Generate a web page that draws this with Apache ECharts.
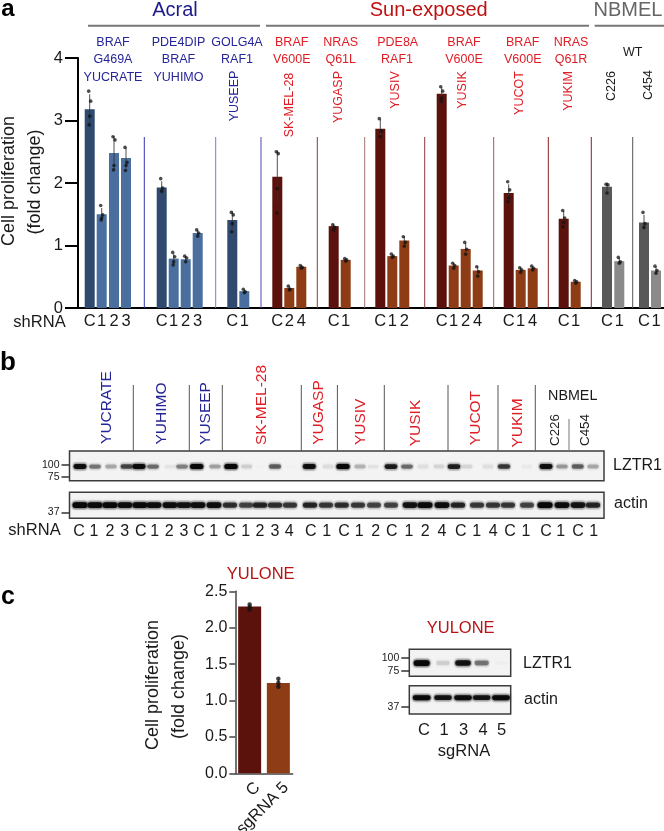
<!DOCTYPE html>
<html><head><meta charset="utf-8">
<style>html,body{margin:0;padding:0;background:#fff}#c{width:664px;height:831px}</style>
<script src="https://cdn.jsdelivr.net/npm/echarts@6/dist/echarts.min.js"></script></head>
<body><div id="c"></div>
<script>
// ---------- Panel a data ----------
const laneLabels = ['C','1','2','3','C','1','2','3','C','1','C','2','4','C','1','C','1','2','C','1','2','4','C','1','4','C','1','C','1','C','1'];
const laneFamily = ['a','a','a','a','a','a','a','a','a','a','s','s','s','s','s','s','s','s','s','s','s','s','s','s','s','s','s','n','n','n','n'];
const proliferation = [3.18,1.5,2.48,2.4,1.93,0.79,0.78,1.2,1.41,0.27,2.1,0.32,0.66,1.31,0.77,2.87,0.83,1.08,3.43,0.68,0.945,0.6,1.84,0.61,0.635,1.43,0.42,1.94,0.75,1.37,0.6];
const proliferationSd = [0.24,0.1,0.27,0.17,0.1,0.08,0.05,0.05,0.14,0.03,0.42,0.03,0.02,0.04,0.02,0.15,0.03,0.07,0.1,0.04,0.09,0.07,0.14,0.04,0.03,0.12,0.02,0.07,0.05,0.12,0.06];
const replicateDots = [[3.47,3.31,3.07,2.93],[1.64,1.49,1.44,1.41],[2.74,2.69,2.28,2.21],[2.57,2.33,2.28,2.2],[2.07,1.92,1.87],[0.89,0.82,0.74,0.69],[0.83,0.8,0.74],[1.25,1.2,1.15],[1.53,1.49,1.35,1.22],[0.3,0.26,0.245],[2.5,2.47,1.91,1.52],[0.35,0.3,0.29],[0.68,0.65,0.635],[1.33,1.29,1.25],[0.79,0.77,0.75],[3.03,2.83,2.74],[0.865,0.83,0.81],[1.14,1.05,0.99],[3.54,3.47,3.36,3.31],[0.715,0.68,0.635],[1.05,0.94,0.86],[0.66,0.58,0.51],[2.02,1.89,1.76,1.7],[0.645,0.61,0.57],[0.67,0.635,0.61],[1.56,1.44,1.37,1.3],[0.44,0.42,0.395],[1.98,1.97,1.84],[0.81,0.74,0.715],[1.53,1.35,1.29],[0.67,0.6,0.555]];
// lane order along the axis
const lanePositions = [89.7,101.7,114,126,161.7,173.7,185.7,197.7,232.3,244.3,277.3,289.3,301.3,333.7,345.7,380.3,392.3,404.3,441.7,453.7,465.7,477.7,508.7,520.7,532.7,563.7,575.7,607,619.3,644,656];

// ---------- Panel b data (western blot band density, 0-1) ----------
const blotLabels = ['C','1','2','3','C','1','2','3','C','1','C','1','2','3','4','C','1','C','1','2','C','1','2','4','C','1','4','C','1','C','1','C','1'];
const blotLabelPositions = [79,94,110,124.7,140.7,154.7,169.3,184,199,213.7,230,245.7,260,275,289.3,310.7,326.7,344,359.3,375.7,391.7,409,425.3,442,460.7,476.7,493.3,510,526,546,560.7,578,593.7];
const lztrBandPositions = [80,95,111,126.7,139,153,170,182,196.7,215,231,246.7,260,275,290,309.3,328,343,360,373,391,407,423,439,454,467,488,504,527,546,562,577.7,593];
const lztrDensity = [0.9,0.42,0.25,0.6,0.95,0.45,0.05,0.38,1,0.28,1,0.12,0.01,0.5,0.01,0.9,0.08,1,0.22,0.06,0.8,0.45,0.07,0.1,0.78,0.1,0.07,0.65,0.03,0.9,0.3,0.5,0.25];
const actinBandPositions = [80,95,110,125,140,154,170,184,198,214,230,246,260,275,290,310,326,341.7,358,374,391,410,425,442,458,477,493,508,527,545,562,578,593];
const actinDensity = [1,0.95,0.95,0.9,0.95,0.9,0.9,0.85,0.9,0.9,0.7,0.6,0.75,0.7,0.65,0.75,0.65,0.7,0.65,0.6,0.6,0.85,0.95,0.9,0.75,0.65,0.65,0.65,0.6,1,0.9,0.85,0.75];

// ---------- Panel c data ----------
const yuloneCats = ['C','sgRNA 5'];
const yuloneValues = [2.29,1.24];
const yuloneSd = [0.03,0.05];
const yuloneDots = [[2.32,2.28,2.25],[1.3,1.24,1.19]];
const sgLabels = ['C','1','3','4','5'];
const sgPositions = [424,444,463.7,483,501.7];
const sgLztrBands = [421.7,443,463,481.7,501];
const sgLztrDensity = [1,0.12,0.85,0.42,0.02];
const sgActinDensity = [0.95,0.85,0.9,0.85,0.95];

// ---------- styles ----------
const FONT = '"Liberation Sans", Arial, sans-serif';
const BLUE='#25259a', RED='#e01c24', DRED='#b81414', INK='#1a1a1a';
const fill = {a:['#2f4a6e','#4a6f9f'], s:['#5b120c','#8d3c15'], n:['#585858','#8a8a8a']};

function t(text,x,y,size,color,rot,weight){
  return {type:'text',x,y,rotation:rot?Math.PI/2:0,silent:true,z:10,
    style:{text,x:0,y:0,font:(weight||'normal')+' '+size+'px '+FONT,fill:color||INK,align:'center',verticalAlign:'middle'}};
}
function ln(x1,y1,x2,y2,color,w){
  return {type:'line',silent:true,z:5,shape:{x1,y1,x2,y2},style:{stroke:color,lineWidth:w||1}};
}
const texts = [
  t('a',8,9,24,'#000',0,'bold'), t('b',8,363,26,'#000',0,'bold'), t('c',8,597,25,'#000',0,'bold'),
  t('Acral',175,10,20,'#1c1c8c'), t('Sun-exposed',428.7,10,20,'#c01010'), t('NBMEL',628,10,20,'#666'),
  t('Cell proliferation',9.5,181,18,INK,1), t('(fold change)',35,182,18,INK,1),
  t('shRNA',39.5,322,16.5), t('shRNA',34.5,530,16.5),
  // panel a annotation rows
  t('BRAF',113,42.7,12.5,BLUE),t('G469A',113,59.3,12.5,BLUE),t('YUCRATE',113,77.3,12.5,BLUE),
  t('PDE4DIP',178.5,42.7,12.5,BLUE),t('BRAF',178.5,59.3,12.5,BLUE),t('YUHIMO',178.5,77.3,12.5,BLUE),
  t('GOLG4A',237,42.7,12.5,BLUE),t('RAF1',237,59.3,12.5,BLUE),t('YUSEEP',235,96,12.5,BLUE,1),
  t('BRAF',291.7,42.7,12.5,RED),t('V600E',291.7,59.3,12.5,RED),t('SK-MEL-28',290,105,12.5,RED,1),
  t('NRAS',340.7,42.7,12.5,RED),t('Q61L',340.7,59.3,12.5,RED),t('YUGASP',339,97,12.5,RED,1),
  t('PDE8A',397.7,42.7,12.5,RED),t('RAF1',397,59.3,12.5,RED),t('YUSIV',396,90,12.5,RED,1),
  t('BRAF',464,42.7,12.5,RED),t('V600E',464,59.3,12.5,RED),t('YUSIK',462.7,90,12.5,RED,1),
  t('BRAF',522.7,42.7,12.5,RED),t('V600E',522.7,59.3,12.5,RED),t('YUCOT',520,93,12.5,RED,1),
  t('NRAS',571,42.7,12.5,RED),t('Q61R',571,59.3,12.5,RED),t('YUKIM',568.7,91,12.5,RED,1),
  t('WT',632.7,52.7,12.5,INK),t('C226',612,86,12.5,INK,1),t('C454',648.7,85,12.5,INK,1),
  // panel b headers
  t('YUCRATE',106.7,407.5,15.5,BLUE,1),t('YUHIMO',161.7,413.5,15.5,BLUE,1),t('YUSEEP',206,413.5,15.5,BLUE,1),
  t('SK-MEL-28',261.7,405,15.5,RED,1),t('YUGASP',319,412.5,15.5,RED,1),t('YUSIV',360.7,421.8,15.5,RED,1),
  t('YUSIK',416,423,15.5,RED,1),t('YUCOT',475.7,418,15.5,RED,1),t('YUKIM',517.3,423,15.5,RED,1),
  t('NBMEL',572.7,395.7,14.3),t('C226',555,430,13.4,INK,1),t('C454',585,430,13.4,INK,1),
  t('LZTR1',637.5,466,16),t('actin',631,504,16),
  // panel c
  t('YULONE',260.7,574.3,16.5,DRED),t('Cell proliferation',153.3,685,18,INK,1),t('(fold change)',179.3,686.5,18,INK,1),
  t('YULONE',460.7,628,16.5,DRED),t('LZTR1',547.5,663.3,16),t('actin',541,700,16),t('sgRNA',464,751.7,16.5)
];
const lines = [
  ln(88,25.7,260,25.7,'#777',2), ln(266,25.7,589,25.7,'#777',2), ln(594.7,25.7,664,25.7,'#777',2),
  ...[[144.3,'#3535b0'],[215.7,'#7a7ad0'],[261,'#4a4ab8'],[317.3,'#8a3a3a'],[364.7,'#a07070'],[424.7,'#8a3a3a'],[493.7,'#9a5a5a'],[548.3,'#8a2020'],[591.3,'#802030'],[632.7,'#555']]
    .map(s=>ln(s[0],137,s[0],308,s[1],1)),
  ...[133.3,189.3,222.3,301.3,337.4,384.3,448,498,535.3].map(x=>ln(x,385,x,451,'#555',1)),
  ln(569,419,569,451,'#777',1)
];

// ---------- series helpers ----------
function errorSeries(xi,yi,data,opts){
  return Object.assign({type:'custom',xAxisIndex:xi,yAxisIndex:yi,z:4,silent:true,
    encode:{x:0,y:[1,2]},data,
    renderItem(p,api){
      const a=api.coord([api.value(0),api.value(1)]), b=api.coord([api.value(0),api.value(2)]);
      return {type:'line',shape:{x1:a[0],y1:a[1],x2:b[0],y2:b[1]},style:{stroke:'#333',lineWidth:1,opacity:0.85}};
    }},opts||{});
}
function bandSeries(xi,yi,kda,positions,density,hw,hh){
  return {type:'custom',xAxisIndex:xi,yAxisIndex:yi,silent:true,z:3,
    encode:{x:0,y:1},data:positions.map((x,i)=>[x,kda,density[i]]),
    renderItem(p,api){
      const c=api.coord([api.value(0),api.value(1)]), d=api.value(2);
      const w=hw*(0.82+0.18*d), h=hh*(0.75+0.25*d);
      const col='rgba(8,8,8,'+Math.min(1,d).toFixed(2)+')';
      const halo='rgba(70,70,70,'+(d*0.22).toFixed(2)+')';
      return {type:'group',children:[
        {type:'rect',shape:{x:c[0]-w-1,y:c[1]-h-2,width:2*w+2,height:2*h+4,r:4},style:{fill:halo,shadowBlur:4,shadowColor:halo}},
        {type:'rect',shape:{x:c[0]-w,y:c[1]-h,width:2*w,height:2*h,r:h},style:{fill:col,shadowBlur:2.5,shadowColor:col}}
      ]};
    }};
}
const jitter=[-1,1,0,-0.5,1.2];
const lookup=(pos,lab)=>{const m=new Map(pos.map((p,i)=>[p,lab[i]]));return v=>m.get(v)||''};
const hiddenY=(gi,min,max,vals)=>({type:'value',gridIndex:gi,min,max,
  splitLine:{show:false},axisLine:{show:false},
  axisTick:{show:true,length:8,customValues:vals,lineStyle:{color:'#333',width:1.5}},
  axisLabel:{show:true,customValues:vals,margin:10,fontFamily:FONT,fontSize:10.5,color:INK,formatter:v=>String(v)}});
const hiddenX=(gi,min,max)=>({type:'value',gridIndex:gi,min,max,show:false,splitLine:{show:false}});
const blotGrid=(left,top,width,height)=>({left,top,width,height,show:true,backgroundColor:'#f3f3f3',borderColor:'#3c3c3c',borderWidth:1.5,outerBoundsMode:'none'});

const option={
  animation:false,backgroundColor:'#fff',
  graphic:{elements:[...lines,...texts]},
  grid:[
    {left:78,top:58,width:586,height:250,outerBoundsMode:'none'},
    blotGrid(69.5,451,534.5,29.7),
    blotGrid(69.5,492.3,534.5,26),
    {left:235.3,top:591.3,width:57.4,height:182,outerBoundsMode:'none'},
    blotGrid(409.3,649.3,101.4,27),
    blotGrid(409.3,685.7,101.4,28.3)
  ],
  xAxis:[
    {type:'value',gridIndex:0,min:78,max:664,splitLine:{show:false},
      axisLine:{show:true,lineStyle:{color:'#000',width:2}},axisTick:{show:false},
      axisLabel:{show:true,customValues:lanePositions,margin:5,fontFamily:FONT,fontSize:16.5,color:INK,formatter:lookup(lanePositions,laneLabels)}},
    hiddenX(1,69.5,604),
    {type:'value',gridIndex:2,min:69.5,max:604,splitLine:{show:false},axisLine:{show:false},axisTick:{show:false},
      axisLabel:{show:true,customValues:blotLabelPositions,margin:5,fontFamily:FONT,fontSize:16,color:INK,formatter:lookup(blotLabelPositions,blotLabels)}},
    {type:'category',gridIndex:3,data:yuloneCats,axisLine:{show:true,lineStyle:{color:'#444',width:1.5}},axisTick:{show:false},
      axisLabel:{interval:0,rotate:45,margin:4,fontFamily:FONT,fontSize:16.5,color:INK,verticalAlign:'top',lineHeight:22}},
    hiddenX(4,409.3,510.7),
    {type:'value',gridIndex:5,min:409.3,max:510.7,splitLine:{show:false},axisLine:{show:false},axisTick:{show:false},
      axisLabel:{show:true,customValues:sgPositions,margin:8,fontFamily:FONT,fontSize:16.5,color:INK,formatter:lookup(sgPositions,sgLabels)}}
  ],
  yAxis:[
    {type:'value',gridIndex:0,min:0,max:4,interval:1,splitLine:{show:false},
      axisLine:{show:true,lineStyle:{color:'#000',width:2}},
      axisTick:{show:true,length:13,lineStyle:{color:'#000',width:2}},
      axisLabel:{margin:15,fontFamily:FONT,fontSize:16.5,color:INK}},
    hiddenY(1,66.7,129.2,[75,100]),
    hiddenY(2,24.5,78.7,[37]),
    {type:'value',gridIndex:3,min:0,max:2.5,interval:0.5,splitLine:{show:false},
      axisLine:{show:true,lineStyle:{color:'#444',width:1.5}},
      axisTick:{show:true,length:6,lineStyle:{color:'#444',width:1.5}},
      axisLabel:{margin:8,fontFamily:FONT,fontSize:16,color:INK,formatter:v=>v.toFixed(1)}},
    hiddenY(4,64,117.1,[75,100]),
    hiddenY(5,23,79.6,[37])
  ],
  series:[
    {type:'bar',name:'proliferation',xAxisIndex:0,yAxisIndex:0,barWidth:10,z:2,
      data:proliferation.map((v,i)=>({value:[lanePositions[i],v],itemStyle:{color:fill[laneFamily[i]][laneLabels[i]==='C'?0:1]}}))},
    errorSeries(0,0,proliferation.map((v,i)=>[lanePositions[i],v-proliferationSd[i],v+proliferationSd[i]])),
    {type:'scatter',name:'replicates',xAxisIndex:0,yAxisIndex:0,symbolSize:3.6,z:5,silent:true,
      itemStyle:{color:'#111',opacity:0.75},
      data:replicateDots.flatMap((arr,i)=>arr.map((v,j)=>[lanePositions[i]+jitter[j],v]))},
    bandSeries(1,1,96.5,lztrBandPositions,lztrDensity,6.6,2.5),
    bandSeries(2,2,52,actinBandPositions,actinDensity,7.5,2.9),
    {type:'bar',name:'yulone',xAxisIndex:3,yAxisIndex:3,barWidth:23,z:2,
      data:yuloneValues.map((v,i)=>({value:v,itemStyle:{color:fill.s[i]}}))},
    errorSeries(3,3,yuloneValues.map((v,i)=>[i,v-yuloneSd[i],v+yuloneSd[i]])),
    {type:'scatter',xAxisIndex:3,yAxisIndex:3,symbolSize:4.5,z:5,silent:true,itemStyle:{color:'#111',opacity:0.8},
      data:yuloneDots.flatMap((arr,i)=>arr.map(v=>[i,v]))},
    bandSeries(4,4,90,sgLztrBands,sgLztrDensity,8,2.9),
    bandSeries(5,5,55.6,sgLztrBands,sgActinDensity,9,2.5)
  ]
};
const chart=echarts.init(document.getElementById('c'),null,{renderer:'canvas',width:664,height:831});
chart.setOption(option);
</script></body></html>
